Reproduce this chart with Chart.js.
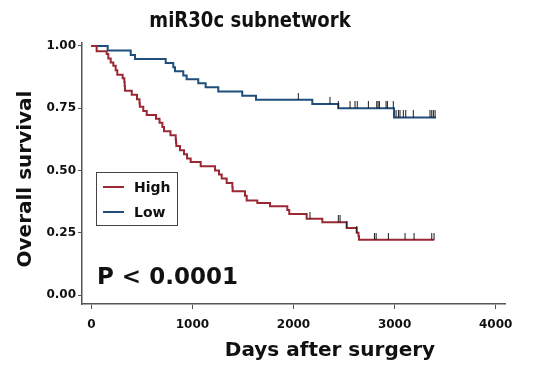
<!DOCTYPE html>
<html>
<head>
<meta charset="utf-8">
<script src="https://cdn.jsdelivr.net/npm/chart.js@4/dist/chart.umd.min.js"></script>
<style>
  html, body { margin: 0; padding: 0; background: #ffffff; }
  #wrap { width: 539px; height: 366px; }
</style>
</head>
<body>
<div id="wrap"><canvas id="km" width="539" height="366"></canvas></div>
<script>
// Kaplan-Meier estimates: day of each drop and survival just after it
const highDays = [0, 53, 152, 168, 192, 218, 241, 257, 310, 327, 330, 333, 400, 452, 477, 480, 514, 548, 640, 675,
  703, 719, 783, 835, 838, 841, 877, 917, 947, 983, 1082, 1224, 1263, 1290, 1339, 1395, 1398, 1520, 1537, 1642,
  1768, 1939, 1958, 2130, 2285, 2526, 2625, 2643, 2648, 3392];
const highSurv = [1.0, 0.979, 0.968, 0.950, 0.934, 0.921, 0.903, 0.885, 0.870, 0.855, 0.839, 0.820, 0.804, 0.786, 0.770, 0.756, 0.739, 0.723, 0.708, 0.692,
  0.675, 0.658, 0.642, 0.625, 0.611, 0.598, 0.581, 0.565, 0.548, 0.534, 0.517, 0.500, 0.484, 0.468, 0.450, 0.433, 0.417, 0.399, 0.380, 0.370,
  0.356, 0.341, 0.325, 0.306, 0.292, 0.269, 0.250, 0.236, 0.222, 0.222];

const lowDays = [0, 162, 390, 432, 736, 811, 828, 910, 943, 1058, 1131, 1256, 1493, 1629, 2186, 2443, 2994, 3410];
const lowSurv = [1.0, 0.982, 0.964, 0.948, 0.932, 0.915, 0.899, 0.882, 0.866, 0.850, 0.834, 0.817, 0.800, 0.784, 0.767, 0.750, 0.713, 0.713];

// Censored follow-up times (days)
const highCensor = [2163, 2443, 2460, 2526, 2625, 2800, 2817, 2938, 3103, 3192, 3367, 3390];
const lowCensor = [2047, 2361, 2443, 2559, 2608, 2630, 2740, 2823, 2836, 2849, 2915, 2928, 2987, 3014, 3037, 3053, 3086, 3110, 3185, 3350, 3367, 3383, 3400];

const xTicks = [0, 1000, 2000, 3000, 4000];
const yTicks = [0, 0.25, 0.5, 0.75, 1];

const groupNames = ['High', 'Low'];
const pLabel = 'P < 0.0001';

const RED = '#9a2834';
const BLUE = '#1f4e7c';
const FONT = '"DejaVu Sans", Verdana, sans-serif';

// survival level of a step curve at a given day
function survAt(days, surv, t) {
  let s = surv[0];
  for (let i = 0; i < days.length; i++) {
    if (days[i] <= t) s = surv[i];
  }
  return s;
}

function curve(days, surv) {
  return days.map((d, i) => ({ x: d, y: surv[i] }));
}
function censorMarks(times, days, surv) {
  return times.map(t => ({ x: t, y: survAt(days, surv, t) }));
}

// small vertical tick that rises above the curve
const tickMark = document.createElement('canvas');
tickMark.width = 3; tickMark.height = 14;
(function () {
  const g = tickMark.getContext('2d');
  g.fillStyle = '#1a1a1a';
  g.fillRect(1, 0, 1, 7);
})();

const annotations = {
  id: 'annotations',
  afterDraw(chart) {
    const ctx = chart.ctx;
    ctx.save();
    ctx.fillStyle = '#111111';
    ctx.textBaseline = 'alphabetic';

    // main title, slightly condensed
    ctx.save();
    ctx.font = 'bold 21px ' + FONT;
    ctx.textAlign = 'center';
    ctx.translate(250, 27);
    ctx.scale(0.86, 1);
    ctx.fillText('miR30c subnetwork', 0, 0);
    ctx.restore();

    // x axis title
    ctx.font = 'bold 20px ' + FONT;
    ctx.textAlign = 'center';
    ctx.fillText('Days after surgery', 330, 356);

    // y axis title
    ctx.save();
    ctx.translate(31, 179);
    ctx.rotate(-Math.PI / 2);
    ctx.fillText('Overall survival', 0, 0);
    ctx.restore();

    // p value
    ctx.textAlign = 'left';
    ctx.font = 'bold 23px ' + FONT;
    ctx.fillText(pLabel, 97, 284);

    // legend
    ctx.strokeStyle = '#444444';
    ctx.lineWidth = 1;
    ctx.strokeRect(96.5, 172.5, 81, 53);
    const colors = [RED, BLUE];
    ctx.font = 'bold 14px ' + FONT;
    ctx.textBaseline = 'middle';
    groupNames.forEach((name, i) => {
      const y = 187 + i * 25;
      ctx.strokeStyle = colors[i];
      ctx.lineWidth = 2;
      ctx.beginPath();
      ctx.moveTo(103, y);
      ctx.lineTo(124, y);
      ctx.stroke();
      ctx.fillStyle = '#111111';
      ctx.fillText(name, 134, y + 1);
    });
    ctx.restore();
  }
};

new Chart(document.getElementById('km'), {
  type: 'line',
  data: {
    datasets: [
      {
        label: groupNames[0], data: curve(highDays, highSurv),
        borderColor: RED, borderWidth: 2, stepped: 'before', pointRadius: 0, fill: false, order: 2
      },
      {
        label: groupNames[1], data: curve(lowDays, lowSurv),
        borderColor: BLUE, borderWidth: 2, stepped: 'before', pointRadius: 0, fill: false, order: 2
      },
      {
        label: 'censored high', data: censorMarks(highCensor, highDays, highSurv),
        showLine: false, pointStyle: tickMark, pointRadius: 7, order: 1
      },
      {
        label: 'censored low', data: censorMarks(lowCensor, lowDays, lowSurv),
        showLine: false, pointStyle: tickMark, pointRadius: 7, order: 1
      }
    ]
  },
  options: {
    responsive: false,
    animation: false,
    devicePixelRatio: 1,
    layout: { padding: { top: 43, right: 34, left: 0, bottom: 0 } },
    plugins: { legend: { display: false }, tooltip: { enabled: false }, title: { display: false } },
    scales: {
      x: {
        type: 'linear',
        min: -92, max: 4092,
        afterBuildTicks: s => { s.ticks = xTicks.map(v => ({ value: v })); },
        afterFit: s => { s.height = 62; },
        grid: { drawOnChartArea: false, drawTicks: true, tickLength: 5, tickColor: '#555555', tickWidth: 1 },
        border: { display: true, color: '#555555', width: 1.5 },
        ticks: { color: '#111111', font: { family: FONT, size: 12, weight: 'bold' }, padding: 9, maxRotation: 0,
          callback: v => String(v) }
      },
      y: {
        type: 'linear',
        min: -0.036, max: 1.012,
        afterBuildTicks: s => { s.ticks = yTicks.map(v => ({ value: v })); },
        afterFit: s => { s.width = 82; },
        grid: { drawOnChartArea: false, drawTicks: true, tickLength: 4, tickColor: '#555555', tickWidth: 1 },
        border: { display: true, color: '#555555', width: 1.5 },
        ticks: { color: '#111111', font: { family: FONT, size: 12, weight: 'bold' }, padding: 2,
          callback: v => v.toFixed(2) }
      }
    }
  },
  plugins: [annotations]
});
</script>
</body>
</html>
